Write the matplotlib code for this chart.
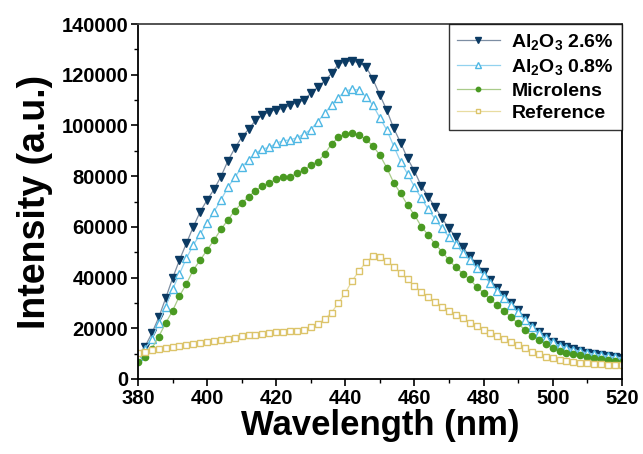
import matplotlib
matplotlib.use("Agg")
import matplotlib.pyplot as plt
import numpy as np
from matplotlib.ticker import MultipleLocator

plt.rcParams['font.family'] = ['Liberation Sans', 'DejaVu Sans']
plt.rcParams['font.weight'] = 'bold'
plt.rcParams['mathtext.default'] = 'regular'

wavelength = list(range(380, 521, 2))

al2o3_26 = [9.5, 12.7, 18, 24.3, 31.8, 39.7, 46.9, 53.5, 60, 66,
            70.6, 74.8, 79.8, 86, 91, 95.3, 98.5, 102, 104, 105.4,
            106.3, 106.7, 108, 109, 110, 112.7, 115, 117.6, 120.5, 124.2,
            125.1, 125.5, 124.7, 123.2, 118.2, 112, 106, 98.9, 93.2, 87,
            82, 76.1, 71.9, 67.7, 63.4, 59.4, 55.9, 51.9, 48.5, 45.4,
            42.3, 39, 35.8, 33.1, 30.1, 27.2, 23.9, 21, 18.4, 16.4,
            14.7, 13.4, 12.5, 11.7, 11, 10.4, 9.9, 9.5, 9.1, 8.7, 8.4]

al2o3_08 = [9, 12, 15.6, 22, 28.5, 35.4, 41.4, 47.6, 52.8, 57.2,
            61.6, 66, 70.6, 75.6, 79.5, 83.5, 86.4, 89, 90.7, 91.4,
            93, 94, 94.3, 95.2, 96.6, 98.4, 101.5, 104.8, 108, 111,
            113.7, 114.2, 114, 111.3, 108, 103, 98.2, 91.9, 85.7, 80.9,
            75.8, 71.3, 66.9, 63, 59.4, 56.1, 53.2, 49.6, 46.9, 43.7,
            41, 37.7, 34.8, 32, 29, 26.3, 23.2, 20.5, 18, 16,
            14.4, 13.2, 12.3, 11.5, 10.9, 10.3, 9.8, 9.4, 9, 8.7, 8.4]

microlens = [6.8, 8.5, 12, 16.7, 22, 26.9, 32.7, 37.5, 43, 46.9,
             50.9, 54.8, 59, 62.7, 66.4, 69.3, 71.9, 74.3, 76.1, 77.4,
             78.7, 79.8, 79.5, 81.3, 82.4, 84.4, 85.7, 88.7, 92.7, 95.3,
             96.6, 97.1, 96.2, 94.5, 91.9, 88.3, 83.3, 77.4, 73.2, 68.6,
             64.7, 60.1, 56.8, 53.2, 50.2, 46.9, 44, 41.6, 39.3, 36.4,
             34, 31.4, 29, 26.8, 24.3, 21.9, 19.3, 17, 15.4, 13.7,
             12.3, 11.2, 10.4, 9.9, 9.3, 8.8, 8.3, 7.9, 7.5, 7.2, 6.8]

reference = [10.1, 10.8, 11.4, 11.7, 12.1, 12.5, 13, 13.4, 13.8, 14.1,
             14.6, 15.1, 15.4, 15.8, 16.3, 17, 17.2, 17.5, 17.7, 18,
             18.4, 18.7, 18.8, 19, 19.3, 20.4, 21.7, 23.5, 26.2, 30,
             34, 38.8, 42.7, 46.1, 48.4, 48, 46.7, 44.3, 41.7, 39.3,
             36.7, 34.4, 32.2, 30.5, 28.5, 26.9, 25.2, 23.9, 22.2, 20.9,
             19.3, 18, 16.8, 15.7, 14.7, 13.4, 12.1, 10.8, 9.9, 8.8,
             8.2, 7.5, 7.1, 6.7, 6.4, 6.2, 5.9, 5.8, 5.6, 5.5, 5.4]

labels = ['Al$_2$O$_3$ 2.6%', 'Al$_2$O$_3$ 0.8%', 'Microlens', 'Reference']

x = np.array(wavelength)
scale = 1000.0

fig = plt.figure(figsize=(6.43, 4.54), dpi=100)
ax = fig.add_axes([0.2146, 0.1652, 0.7524, 0.7818])

ax.plot(x, np.array(al2o3_26) * scale, linestyle='-', linewidth=0.9, color='#7d8ea3',
        marker='v', markersize=6, markerfacecolor='#0b3a63', markeredgecolor='#0b3a63',
        label=labels[0])
ax.plot(x, np.array(al2o3_08) * scale, linestyle='-', linewidth=0.9, color='#92d2ef',
        marker='^', markersize=5.5, markerfacecolor='white', markeredgecolor='#4fb8e4',
        markeredgewidth=1.0, label=labels[1])
ax.plot(x, np.array(microlens) * scale, linestyle='-', linewidth=0.9, color='#a9cb8a',
        marker='o', markersize=4.5, markerfacecolor='#4a9a22', markeredgecolor='#4a9a22',
        label=labels[2])
ax.plot(x, np.array(reference) * scale, linestyle='-', linewidth=0.9, color='#e8dca0',
        marker='s', markersize=4.3, markerfacecolor='white', markeredgecolor='#dcc46a',
        markeredgewidth=1.0, label=labels[3])

ax.set_xlim(380, 520)
ax.set_ylim(0, 140000)
ax.xaxis.set_major_locator(MultipleLocator(20))
ax.xaxis.set_minor_locator(MultipleLocator(10))
ax.yaxis.set_major_locator(MultipleLocator(20000))
ax.yaxis.set_minor_locator(MultipleLocator(10000))

ax.tick_params(which='major', direction='out', length=5, width=1.2, labelsize=14.5, pad=2)
ax.tick_params(which='minor', direction='out', length=3, width=1.0)
for lab in ax.get_xticklabels() + ax.get_yticklabels():
    lab.set_fontweight('bold')
for s in ax.spines.values():
    s.set_linewidth(1.3)
ax.spines['top'].set_color('#444444')

ax.set_xlabel('Wavelength (nm)', fontsize=25, fontweight='bold', labelpad=1)
ax.set_ylabel('Intensity (a.u.)', fontsize=27, fontweight='bold', labelpad=6)

leg = ax.legend(loc='upper right', bbox_to_anchor=(1, 1), borderaxespad=0,
                frameon=True, fancybox=False, fontsize=14, handlelength=2.2,
                handletextpad=0.6, labelspacing=0.26, borderpad=0.4, markerscale=0.7)
leg.get_frame().set_edgecolor('black')
leg.get_frame().set_linewidth(1.0)
for t in leg.get_texts():
    t.set_fontweight('bold')

fig.savefig('out.png', dpi=100)
